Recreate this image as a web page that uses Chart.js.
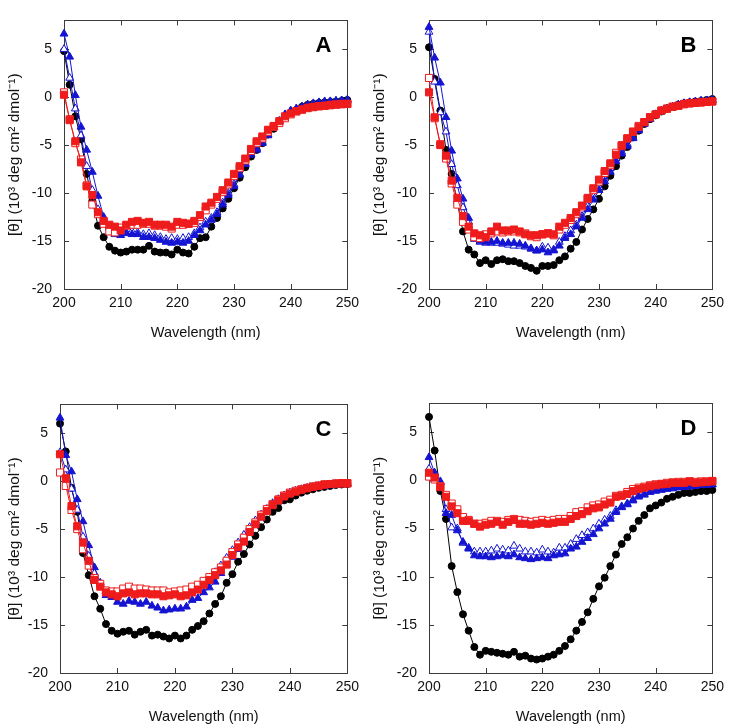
<!DOCTYPE html>
<html>
<head>
<meta charset="utf-8">
<script src="https://cdn.jsdelivr.net/npm/chart.js@4.4.0/dist/chart.umd.min.js"></script>
<style>
body { margin: 0; background: #fff; }
#wrap { position: relative; width: 730px; height: 725px; }
canvas { position: absolute; }
</style>
</head>
<body>
<div id="wrap">
  <canvas id="cA" width="365" height="345" style="left:0;top:0"></canvas>
  <canvas id="cB" width="365" height="345" style="left:365px;top:0"></canvas>
  <canvas id="cC" width="365" height="341" style="left:0;top:384px"></canvas>
  <canvas id="cD" width="365" height="342" style="left:365px;top:383px"></canvas>
</div>
<script>
// wavelength (nm)
var wavelength = [200,201,202,203,204,205,206,207,208,209,210,211,212,213,214,215,216,217,218,219,
  220,221,222,223,224,225,226,227,228,229,230,231,232,233,234,235,236,237,238,239,
  240,241,242,243,244,245,246,247,248,249,250];
var xTicks = [200, 210, 220, 230, 240, 250];
var yTicks = [-20, -15, -10, -5, 0, 5];

// panel A
var aBlack = [4.8,1.3,-2.0,-4.4,-8.0,-10.8,-13.4,-14.6,-15.6,-16.0, -16.2,-16.1,-15.9,-15.9,-15.9,-15.5,-16.1,-16.2,-16.2,-16.4,
  -15.9,-16.2,-16.3,-15.6,-14.7,-14.6,-13.5,-12.6,-11.6,-10.6, -9.5,-8.4,-7.3,-6.2,-5.5,-4.8,-3.9,-3.3,-2.6,-2.1,
  -1.7,-1.35,-1.0,-0.8,-0.7,-0.6,-0.55,-0.5,-0.45,-0.4, -0.3];
var aBlueFill = [6.6,4.2,0.2,-3.1,-5.5,-7.8,-10.3,-12.5,-13.5,-14.3, -14.4,-14.2,-14.3,-14.3,-14.6,-14.6,-14.7,-14.9,-15.1,-15.2,
  -15.1,-15.2,-15.0,-14.4,-13.9,-13.3,-12.8,-12.2,-11.2,-10.2, -9.3,-8.1,-7.0,-6.0,-5.5,-4.8,-4.0,-3.1,-2.5,-1.8,
  -1.4,-1.2,-1.0,-0.8,-0.65,-0.55,-0.45,-0.45,-0.4,-0.35, -0.3];
var aBlueOpen = [5.0,2.0,-1.2,-4.0,-7.2,-9.7,-11.7,-12.8,-13.6,-14.2, -14.2,-14.1,-14.0,-14.1,-14.3,-14.2,-14.4,-14.6,-14.8,-14.7,
  -14.8,-14.7,-14.6,-14.2,-13.6,-13.0,-12.6,-12.0,-11.0,-10.0, -9.1,-8.0,-6.9,-6.0,-5.4,-4.7,-3.9,-3.1,-2.5,-1.9,
  -1.5,-1.2,-1.0,-0.8,-0.7,-0.6,-0.5,-0.45,-0.4,-0.35, -0.3];
var aRedFill = [0.25,-2.4,-4.6,-6.8,-9.3,-10.2,-12.0,-12.9,-13.3,-13.5, -13.9,-13.3,-13.0,-12.9,-13.1,-13.0,-13.3,-13.3,-13.3,-13.5,
  -13.0,-13.1,-13.2,-12.9,-12.3,-11.4,-11.0,-10.4,-9.7,-8.9, -8.0,-7.2,-6.4,-5.4,-4.6,-4.1,-3.4,-3.0,-2.5,-2.0,
  -1.7,-1.45,-1.3,-1.1,-1.0,-0.95,-0.9,-0.8,-0.75,-0.7, -0.7];
var aRedOpen = [0.5,-2.3,-4.8,-6.5,-9.2,-11.2,-12.2,-13.2,-14.0,-14.1, -13.6,-13.4,-13.3,-13.3,-13.2,-13.2,-13.4,-13.4,-13.5,-13.7,
  -13.3,-13.3,-13.2,-13.1,-12.5,-11.8,-11.2,-10.6,-9.9,-9.1, -8.2,-7.4,-6.6,-5.6,-4.8,-4.3,-3.6,-3.1,-2.7,-2.2,
  -1.8,-1.5,-1.3,-1.15,-1.05,-0.95,-0.9,-0.85,-0.8,-0.75, -0.7];

// panel B
var bBlack = [5.2,1.9,-1.4,-5.5,-8.0,-11.0,-14.0,-15.9,-16.4,-17.3, -17.0,-17.4,-17.0,-16.9,-17.1,-17.1,-17.3,-17.6,-17.8,-18.1,
  -17.6,-17.6,-17.5,-17.0,-16.6,-15.8,-15.1,-13.8,-12.7,-11.7, -10.6,-9.3,-8.2,-7.2,-6.1,-5.2,-4.2,-3.5,-2.8,-2.3,
  -1.9,-1.5,-1.2,-1.0,-0.8,-0.65,-0.55,-0.45,-0.4,-0.3, -0.2];
var bBlueFill = [7.3,4.1,1.5,-2.1,-5.6,-8.5,-10.6,-12.6,-14.6,-15.0, -15.1,-15.1,-15.0,-15.2,-15.2,-15.2,-15.3,-15.5,-15.8,-16.0,
  -15.9,-16.2,-16.0,-15.5,-14.7,-14.3,-13.5,-12.6,-11.7,-10.7, -9.7,-8.8,-7.8,-6.7,-5.9,-5.1,-4.3,-3.5,-2.8,-2.3,
  -1.8,-1.5,-1.2,-1.0,-0.8,-0.65,-0.55,-0.5,-0.4,-0.4, -0.3];
var bBlueOpen = [6.8,1.6,-1.6,-3.6,-7.0,-9.2,-11.5,-13.0,-14.8,-15.1, -15.2,-15.2,-15.2,-15.3,-15.4,-15.5,-15.5,-15.6,-15.8,-16.0,
  -15.6,-15.7,-15.9,-15.1,-14.5,-13.9,-13.3,-12.4,-11.4,-10.4, -9.4,-8.5,-7.4,-6.4,-5.7,-4.9,-4.2,-3.4,-2.7,-2.2,
  -1.8,-1.4,-1.2,-1.0,-0.8,-0.65,-0.55,-0.5,-0.4,-0.35, -0.3];
var bRedFill = [0.5,-2.1,-5.0,-6.1,-8.7,-10.5,-12.4,-13.5,-14.2,-14.4, -14.6,-14.0,-13.5,-13.9,-13.9,-13.8,-14.0,-14.3,-14.4,-14.4,
  -14.3,-14.2,-14.3,-13.5,-13.1,-12.6,-12.0,-11.3,-10.5,-9.5, -8.6,-7.7,-6.9,-6.0,-5.1,-4.3,-3.6,-3.1,-2.6,-2.1,
  -1.8,-1.4,-1.2,-1.0,-0.9,-0.7,-0.65,-0.6,-0.55,-0.5, -0.45];
var bRedOpen = [2.0,-2.2,-4.9,-6.4,-9.0,-11.2,-13.0,-13.8,-14.6,-14.7, -14.3,-14.2,-14.0,-14.1,-14.0,-14.0,-14.1,-14.2,-14.5,-14.6,
  -14.3,-14.2,-14.4,-13.8,-13.3,-12.8,-12.2,-11.4,-10.6,-9.7, -8.8,-7.9,-7.1,-5.8,-5.0,-4.3,-3.6,-3.0,-2.6,-2.1,
  -1.8,-1.4,-1.2,-1.0,-0.9,-0.75,-0.65,-0.6,-0.55,-0.5, -0.45];

// panel C
var cBlack = [6.0,3.1,-0.7,-3.2,-7.5,-9.8,-12.0,-13.3,-14.9,-15.6, -15.9,-15.7,-15.6,-16.0,-15.7,-15.5,-16.1,-16.0,-16.2,-16.4,
  -16.1,-16.4,-16.1,-15.5,-15.1,-14.6,-13.8,-12.8,-12.0,-10.6, -9.7,-8.4,-7.6,-6.6,-5.7,-4.8,-4.0,-3.2,-2.8,-2.0,
  -1.9,-1.5,-1.2,-1.0,-0.85,-0.7,-0.6,-0.5,-0.4,-0.35, -0.3];
var cBlueFill = [6.6,2.7,1.0,-1.9,-4.2,-6.7,-9.0,-10.6,-11.9,-12.1, -12.6,-12.8,-12.5,-12.6,-12.8,-12.6,-13.0,-13.2,-13.5,-13.4,
  -13.3,-13.3,-13.1,-12.4,-12.2,-11.6,-11.1,-10.5,-9.6,-8.7, -7.9,-7.1,-6.2,-5.3,-4.5,-3.8,-3.0,-2.4,-1.9,-1.6,
  -1.3,-1.1,-0.9,-0.8,-0.7,-0.6,-0.5,-0.45,-0.4,-0.35, -0.3];
var cBlueOpen = [3.0,1.2,-0.8,-3.0,-5.8,-7.8,-9.6,-10.8,-11.5,-11.8, -11.9,-11.3,-11.6,-11.5,-11.7,-11.6,-11.7,-11.8,-11.9,-11.9,
  -11.8,-11.8,-11.6,-11.3,-11.0,-10.6,-10.1,-9.5,-8.8,-8.0, -7.2,-6.4,-5.6,-4.8,-4.1,-3.5,-2.9,-2.3,-1.9,-1.5,
  -1.2,-1.0,-0.85,-0.7,-0.6,-0.5,-0.4,-0.35,-0.3,-0.3, -0.25];
var cRedFill = [2.8,0.3,-2.6,-4.7,-6.4,-8.3,-10.3,-11.0,-11.6,-11.8, -12.0,-11.7,-11.6,-11.8,-11.7,-11.7,-11.8,-11.8,-12.0,-11.9,
  -11.8,-12.0,-11.9,-11.6,-11.3,-10.8,-10.3,-9.8,-9.3,-8.7, -7.7,-6.9,-6.3,-5.3,-4.5,-3.7,-3.1,-2.5,-2.0,-1.6,
  -1.3,-1.1,-0.9,-0.75,-0.6,-0.5,-0.35,-0.3,-0.25,-0.25, -0.25];
var cRedOpen = [0.9,-0.5,-3.0,-5.0,-7.1,-8.8,-10.1,-10.7,-11.4,-11.5, -11.5,-11.2,-11.0,-11.2,-11.2,-11.3,-11.4,-11.4,-11.4,-11.6,
  -11.5,-11.4,-11.3,-11.0,-10.8,-10.4,-10.0,-9.5,-9.0,-8.3, -7.4,-6.6,-5.9,-5.0,-4.3,-3.5,-2.9,-2.4,-1.9,-1.5,
  -1.2,-1.0,-0.85,-0.7,-0.55,-0.45,-0.35,-0.3,-0.25,-0.2, -0.2];

// panel D
var dBlack = [6.6,3.1,-1.1,-4.0,-8.9,-11.6,-13.9,-15.6,-17.3,-18.1, -17.7,-17.8,-17.9,-18.0,-18.1,-17.8,-18.3,-18.2,-18.5,-18.6,
  -18.5,-18.3,-18.1,-17.7,-17.2,-16.5,-15.6,-14.7,-13.7,-12.3, -11.0,-10.1,-8.9,-7.7,-6.6,-5.9,-5.0,-4.2,-3.6,-2.9,
  -2.6,-2.3,-1.9,-1.7,-1.5,-1.3,-1.3,-1.2,-1.1,-1.1, -1.0];
var dBlueFill = [2.4,0.8,-0.2,-3.4,-3.6,-5.2,-6.4,-7.1,-7.8,-7.9, -7.9,-8.0,-7.9,-7.8,-7.9,-7.7,-8.0,-8.1,-8.2,-8.1,
  -8.0,-8.1,-7.8,-7.7,-7.6,-7.1,-6.9,-6.4,-6.0,-5.6, -5.0,-4.5,-4.0,-3.3,-2.8,-2.5,-2.1,-1.7,-1.5,-1.2,
  -1.1,-1.0,-0.9,-0.85,-0.75,-0.7,-0.65,-0.6,-0.5,-0.5, -0.45];
var dBlueOpen = [1.2,0.1,-0.1,-3.0,-4.9,-5.0,-6.5,-7.0,-7.4,-7.4, -7.4,-7.3,-7.1,-7.2,-7.3,-6.8,-7.1,-7.4,-7.4,-7.5,
  -7.2,-7.4,-7.5,-7.0,-7.0,-6.6,-6.1,-5.7,-5.4,-5.0, -4.5,-4.1,-3.7,-3.1,-2.7,-2.4,-2.0,-1.6,-1.4,-1.2,
  -1.0,-0.9,-0.8,-0.75,-0.7,-0.65,-0.6,-0.55,-0.5,-0.45, -0.4];
var dRedFill = [0.8,0.3,-0.7,-1.7,-2.7,-3.4,-4.2,-4.2,-4.5,-4.8, -4.6,-4.5,-4.3,-4.6,-4.3,-4.1,-4.5,-4.5,-4.6,-4.5,
  -4.4,-4.5,-4.4,-4.3,-4.3,-4.0,-3.7,-3.5,-3.2,-2.9, -2.8,-2.5,-2.3,-1.7,-1.6,-1.4,-1.1,-0.9,-0.75,-0.6,
  -0.5,-0.4,-0.35,-0.25,-0.25,-0.25,-0.1,-0.25,-0.2,-0.15, -0.1];
var dRedOpen = [0.4,0.1,-0.6,-1.5,-2.4,-3.0,-3.8,-4.1,-4.5,-4.5, -4.4,-4.2,-4.2,-4.3,-4.1,-4.0,-4.1,-4.2,-4.3,-4.2,
  -4.1,-4.2,-4.1,-4.0,-4.0,-3.7,-3.3,-3.2,-2.8,-2.6, -2.5,-2.2,-2.0,-1.6,-1.5,-1.2,-0.9,-0.75,-0.65,-0.5,
  -0.4,-0.35,-0.25,-0.2,-0.15,-0.15,-0.1,-0.15,-0.1,-0.1, -0.05];

var BLACK = '#000000', BLUE = '#1414d2', RED = '#ee1c1c';
var FONT = '"Liberation Sans", Arial, sans-serif';

// frame with inward ticks on all four sides, plus the panel letter
var framePlugin = {
  id: 'frame',
  beforeDatasetsDraw: function(chart) {
    var ctx = chart.ctx, a = chart.chartArea, x = chart.scales.x, y = chart.scales.y;
    ctx.save();
    ctx.strokeStyle = '#3c3c3c';
    ctx.lineWidth = 1;
    ctx.strokeRect(Math.round(a.left) + 0.5, Math.round(a.top) + 0.5,
      Math.round(a.right - a.left), Math.round(a.bottom - a.top));
    ctx.beginPath();
    x.ticks.forEach(function(t) {
      var px = Math.round(x.getPixelForValue(t.value)) + 0.5;
      ctx.moveTo(px, a.bottom); ctx.lineTo(px, a.bottom - 5);
      ctx.moveTo(px, a.top); ctx.lineTo(px, a.top + 5);
    });
    y.ticks.forEach(function(t) {
      var py = Math.round(y.getPixelForValue(t.value)) + 0.5;
      ctx.moveTo(a.left, py); ctx.lineTo(a.left + 5, py);
      ctx.moveTo(a.right, py); ctx.lineTo(a.right - 5, py);
    });
    ctx.stroke();
    ctx.restore();
  },
  afterDraw: function(chart, args, opts) {
    var ctx = chart.ctx, a = chart.chartArea;
    ctx.save();
    ctx.font = 'bold 22px ' + FONT;
    ctx.fillStyle = '#000';
    ctx.textAlign = 'right';
    ctx.textBaseline = 'middle';
    ctx.fillText(opts.letter, a.right - 16, a.top + 26);
    ctx.restore();
  }
};

function series(vals, color, style, filled, radius, order) {
  return {
    data: wavelength.map(function(w, i) { return {x: w, y: vals[i]}; }),
    showLine: true,
    borderColor: color,
    borderWidth: 1,
    backgroundColor: filled ? color : '#ffffff',
    pointBackgroundColor: filled ? color : '#ffffff',
    pointBorderColor: color,
    pointBorderWidth: 1,
    pointStyle: style,
    pointRadius: radius,
    tension: 0,
    clip: false,
    order: order
  };
}

function makePanel(id, letter, sets, yWidth, padRight, xHeight, xTitlePad) {
  new Chart(document.getElementById(id), {
    type: 'scatter',
    data: {
      datasets: [
        series(sets[3], RED, 'rect', true, 5, 0),
        series(sets[4], RED, 'rect', false, 5, 1),
        series(sets[1], BLUE, 'triangle', true, 4.5, 2),
        series(sets[2], BLUE, 'triangle', false, 4.5, 3),
        series(sets[0], BLACK, 'circle', true, 3.5, 4)
      ]
    },
    options: {
      responsive: false,
      animation: false,
      layout: { padding: { top: 1, right: padRight, left: 0, bottom: 0 } },
      plugins: { legend: { display: false }, tooltip: { enabled: false }, frame: { letter: letter } },
      scales: {
        x: {
          type: 'linear', min: 200, max: 250,
          afterBuildTicks: function(s) { s.ticks = xTicks.map(function(v) { return {value: v}; }); },
          afterFit: function(s) { s.height = xHeight; },
          grid: { display: false, drawTicks: false },
          border: { display: false },
          ticks: { padding: 6, autoSkip: false, maxRotation: 0, color: '#111', font: { family: FONT, size: 14 } },
          title: { display: true, text: 'Wavelength (nm)', color: '#111', font: { family: FONT, size: 14.5 },
                   padding: { top: 0, bottom: xTitlePad } }
        },
        y: {
          min: -20, max: 8,
          afterBuildTicks: function(s) { s.ticks = yTicks.map(function(v) { return {value: v}; }); },
          afterFit: function(s) { s.width = yWidth; },
          grid: { display: false, drawTicks: false },
          border: { display: false },
          ticks: { padding: 12, autoSkip: false, color: '#111', font: { family: FONT, size: 14 } },
          title: { display: true, text: '[\u03b8] (10\u00b3 deg cm\u00b2 dmol\u207b\u00b9)', color: '#111',
                   font: { family: FONT, size: 15.5 }, padding: { top: 5, bottom: 0 } }
        }
      }
    },
    plugins: [framePlugin]
  });
}

makePanel('cA', 'A', [aBlack, aBlueFill, aBlueOpen, aRedFill, aRedOpen], 64, 12, 56, 3);
makePanel('cB', 'B', [bBlack, bBlueFill, bBlueOpen, bRedFill, bRedOpen], 64, 12, 56, 3);
makePanel('cC', 'C', [cBlack, cBlueFill, cBlueOpen, cRedFill, cRedOpen], 60, 17, 52, -1);
makePanel('cD', 'D', [dBlack, dBlueFill, dBlueOpen, dRedFill, dRedOpen], 64, 12, 52, -1);
</script>
</body>
</html>
